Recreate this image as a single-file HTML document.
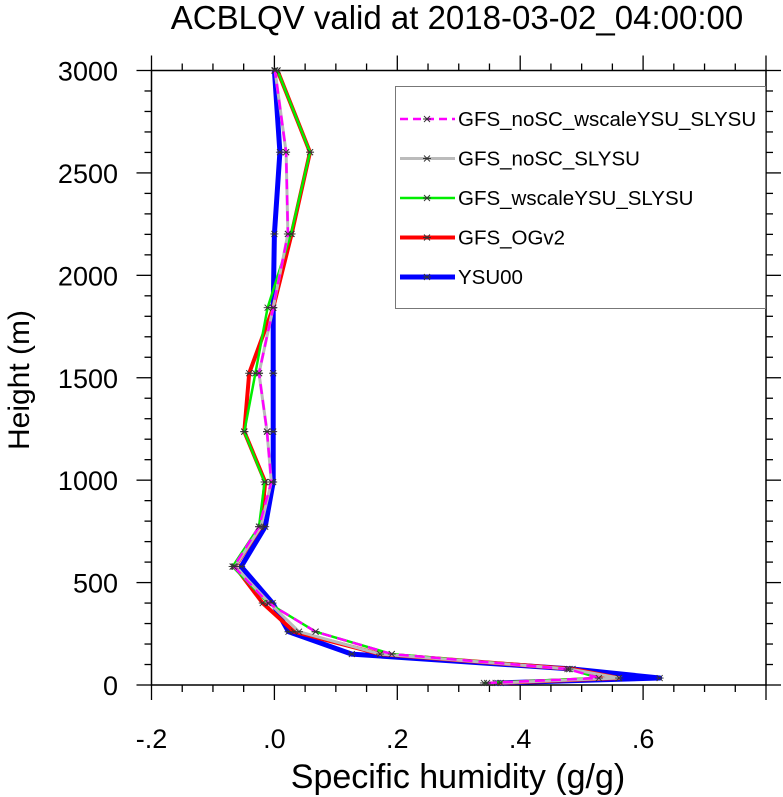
<!DOCTYPE html>
<html><head><meta charset="utf-8"><style>
body{margin:0;background:#fff;}
svg{display:block;font-family:"Liberation Sans",Arial,sans-serif;}
</style></head><body>
<svg id="chart" width="783" height="797" viewBox="0 0 783 797">
<text x="457" y="29" font-size="33" text-anchor="middle">ACBLQV valid at 2018-03-02_04:00:00</text>
<text x="458" y="788" font-size="34" text-anchor="middle">Specific humidity (g/g)</text>
<text transform="translate(29,380) rotate(-90)" font-size="30" text-anchor="middle">Height (m)</text>
<g id="axes"></g>
<g id="series"></g>
<g id="legend"></g>
</svg>
<script>
const heights=[10,34,78,151,260,400,578,773,991,1237,1522,1842,2202,2601,3000];
const ysu00=[0.36,0.627,0.485,0.126,0.023,-0.003,-0.054,-0.015,-0.002,-0.002,-0.002,-0.002,0.0,0.009,0.0];
const ogv2=[0.363,0.56,0.485,0.172,0.032,-0.019,-0.064,-0.022,-0.015,-0.049,-0.041,-0.002,0.028,0.058,0.005];
const wscale=[0.341,0.528,0.48,0.191,0.067,-0.01,-0.068,-0.025,-0.016,-0.049,-0.031,-0.011,0.027,0.058,0.005];
const noscSly=[0.368,0.561,0.48,0.172,0.04,-0.008,-0.064,-0.022,-0.005,-0.012,-0.025,-0.002,0.022,0.019,0.001];
const noscWscale=[0.346,0.528,0.477,0.191,0.067,-0.01,-0.066,-0.025,-0.005,-0.012,-0.025,-0.002,0.022,0.019,0.001];
const xTicks=[-0.2,0,0.2,0.4,0.6];
const xTickLabels=["-.2",".0",".2",".4",".6"];
const yTicks=[0,500,1000,1500,2000,2500,3000];
const NS="http://www.w3.org/2000/svg";
const L=151.5,R=766,T=70.5,B=685;
const xMin=-0.2,xMax=0.8,yMin=0,yMax=3000;
function X(v){return L+(v-xMin)/(xMax-xMin)*(R-L);}
function Y(v){return B-(v-yMin)/(yMax-yMin)*(B-T);}
function mk(tag,attrs,parent){const e=document.createElementNS(NS,tag);for(const k in attrs)e.setAttribute(k,attrs[k]);parent.appendChild(e);return e;}
const axes=document.getElementById('axes');
const frame=mk('rect',{x:L,y:T,width:R-L,height:B-T,fill:'none',stroke:'#000','stroke-width':1.5},axes);


for(let v=-0.2;v<=0.8001;v+=0.05){
  const major=Math.abs(Math.round(v*5)-v*5)<1e-6;
  const len=major?15:7;
  const x=X(v);
  const t1=mk('line',{x1:x,x2:x,y1:B,y2:B+len,stroke:'#000','stroke-width':1.3},axes);
  
  
  const t2=mk('line',{x1:x,x2:x,y1:T,y2:T-len,stroke:'#000','stroke-width':1.3},axes);
  
  
}
for(let v=0;v<=3000;v+=100){
  const major=v%500===0;
  const len=major?15:7;
  const y=Y(v);
  const t1=mk('line',{x1:L,x2:L-len,y1:y,y2:y,stroke:'#000','stroke-width':1.3},axes);
  
  
  const t2=mk('line',{x1:R,x2:R+len,y1:y,y2:y,stroke:'#000','stroke-width':1.3},axes);
  
  
}
xTicks.forEach((v,i)=>{
  const t=mk('text',{x:X(v),y:748,'font-size':27,'text-anchor':'middle'},axes);
  t.textContent=xTickLabels[i];
  
  
});
yTicks.forEach(v=>{
  const t=mk('text',{x:118,y:Y(v)+10,'font-size':27,'text-anchor':'end'},axes);
  t.textContent=String(v);
  
  
});
const seriesDefs=[
  {name:'YSU00',data:ysu00,color:'#0000ff',w:5,dash:''},
  {name:'GFS_OGv2',data:ogv2,color:'#ff0000',w:4,dash:''},
  {name:'GFS_wscaleYSU_SLYSU',data:wscale,color:'#00ee00',w:2.5,dash:''},
  {name:'GFS_noSC_SLYSU',data:noscSly,color:'#bbbbbb',w:3,dash:''},
  {name:'GFS_noSC_wscaleYSU_SLYSU',data:noscWscale,color:'#ff00ff',w:2.5,dash:'10,6'}
];
const sg=document.getElementById('series');
function star(g,x,y){
  const s=mk('path',{d:`M${x-4},${y}H${x+4}M${x-3},${y-3}L${x+3},${y+3}M${x-3},${y+3}L${x+3},${y-3}`,stroke:'#333','stroke-width':0.9,fill:'none'},g);
  
  
}
seriesDefs.forEach(s=>{
  const g=mk('g',{},sg);
  
  
  const pts=s.data.map((v,i)=>X(v).toFixed(1)+','+Y(heights[i]).toFixed(1)).join(' ');
  const pl=mk('polyline',{points:pts,fill:'none',stroke:s.color,'stroke-width':s.w,'stroke-linejoin':'round'},g);
  if(s.dash)pl.setAttribute('stroke-dasharray',s.dash);
  
  
  s.data.forEach((v,i)=>star(g,X(v),Y(heights[i])));
});
const lg=document.getElementById('legend');
const box=mk('rect',{x:395.5,y:86.5,width:370,height:222,fill:'#fff',stroke:'#777','stroke-width':1},lg);


const order=[4,3,2,1,0];
order.forEach((si,k)=>{
  const s=seriesDefs[si];
  const y=119+k*39.5;
  const g=mk('g',{},lg);
  
  
  const l=mk('line',{x1:400,x2:455,y1:y,y2:y,stroke:s.color,'stroke-width':s.w},g);
  if(s.dash)l.setAttribute('stroke-dasharray','8,5');
  star(g,427,y);
  const t=mk('text',{x:458,y:y+7,'font-size':20.5},g);
  t.textContent=s.name;
});
</script>
</body></html>
